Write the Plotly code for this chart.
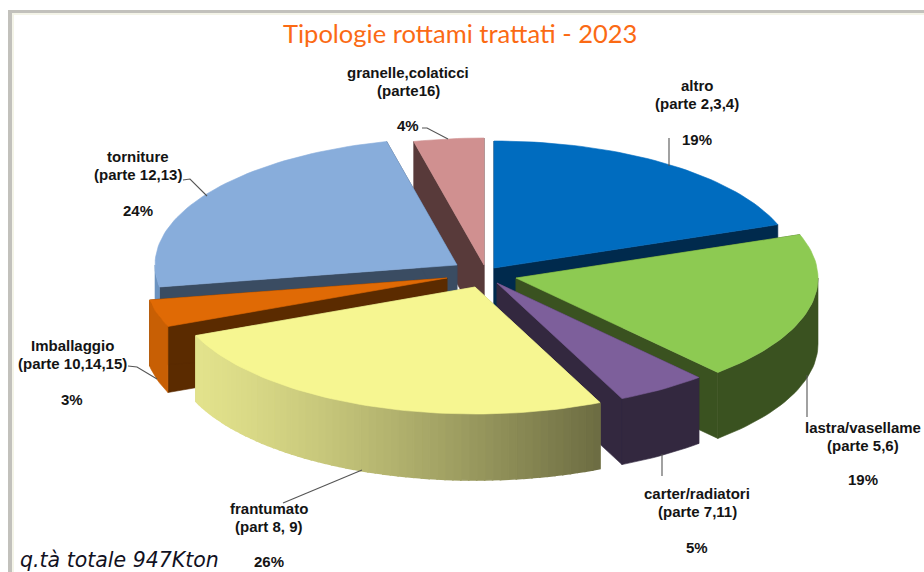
import math
import plotly.graph_objects as go

# ---- data ----
categories = ["altro", "lastra/vasellame", "carter/radiatori", "frantumato",
              "Imballaggio", "torniture", "granelle,colaticci"]
parts = ["(parte 2,3,4)", "(parte 5,6)", "(parte 7,11)", "(part 8, 9)",
         "(parte 10,14,15)", "(parte 12,13)", "(parte16)"]
percent = [19.45, 18.9, 4.86, 25.55, 3.47, 24.03, 3.74]
title_text = "Tipologie rottami trattati - 2023"
note_text = "q.tà totale 947Kton"

# ---- styles / layout ----
W, H = 924, 572
RX, RY, DEPTH = 302, 127, 66
CENTER = (486, 275)
# explosion offset of each slice from the pie centre (px)
EXPLODE_X = [8, 30, 11, -11, -39, -29, -2]
EXPLODE_Y = [-7, 3, 8, 12, 3, -10, -10]
TOP_COLORS = ["#006CBF", "#8DCA52", "#7D5F9B", "#F6F691", "#E06A05", "#88ADDB", "#D09090"]
WALL_COLORS = ["#002A4D", "#3A5220", "#33283F", "#A0A05F", "#5B2B00", "#3A4C62", "#583A3A"]
OUTER_COLORS = ["#002A4D", "#3A5220", "#33283F", None, "#C85F04", "#6C93C0", "#583A3A"]
GRAD_LEFT, GRAD_RIGHT = (226, 226, 140), (108, 108, 66)
DRAW_ORDER = [6, 0, 5, 4, 1, 2, 3]
LABEL_CX = [697, 863, 697, 269, 72, 138, 408]
LABEL_Y = [(85, 103, 139), (427, 445, 479), (493, 511, 547), (508, 526, 561),
           (345, 363, 399), (156, 174, 210), (72, 90, 125)]
LEADERS = [
    ([669, 669], [138, 166]),
    ([807, 807], [375, 417]),
    ([662, 662], [454, 476]),
    ([362, 283], [470, 503]),
    ([128, 137, 157], [366, 367, 379]),
    ([183, 190, 207], [180, 179, 196]),
    ([422, 427, 448], [128, 128, 139]),
]
LABEL_FONT = dict(family="Liberation Sans, Arial", size=15, color="#141414")

fig = go.Figure()


def poly(xs, ys, color, lw=0.6):
    fig.add_trace(go.Scatter(x=xs, y=ys, mode="lines", fill="toself", fillcolor=color,
                             line=dict(color=color, width=lw), hoverinfo="skip",
                             showlegend=False))


def rim(ax, ay, theta):
    t = math.radians(theta)
    return ax + RX * math.sin(t), ay - RY * math.cos(t)


def mix(a, b, t):
    return "rgb(%d,%d,%d)" % tuple(round(a[i] + (b[i] - a[i]) * t) for i in range(3))


edges = [0]
for p in percent:
    edges.append(edges[-1] + p * 3.6)

for i in DRAW_ORDER:
    ax, ay = CENTER[0] + EXPLODE_X[i], CENTER[1] + EXPLODE_Y[i]
    a0, a1 = edges[i], edges[i + 1]
    # radial walls
    for th in (a0, a1):
        x, y = rim(ax, ay, th)
        poly([ax, x, x, ax, ax], [ay, y, y + DEPTH, ay + DEPTH, ay], WALL_COLORS[i])
    # outer wall (front half only)
    lo, hi = max(a0, 90), min(a1, 270)
    if hi > lo:
        n = max(2, int((hi - lo) / 1.5))
        angs = [lo + (hi - lo) * k / n for k in range(n + 1)]
        if OUTER_COLORS[i] is None:
            x_min, x_max = rim(ax, ay, a1)[0], rim(ax, ay, a0)[0]
            # strips painted from the bright end; each one overlaps the previous
            for k in range(n):
                pa, pb = rim(ax, ay, angs[k]), rim(ax, ay, angs[k + 1])
                t = (0.5 * (pa[0] + pb[0]) - x_min) / (x_max - x_min)
                poly([pa[0], pb[0], pb[0], pa[0], pa[0]],
                     [pa[1], pb[1], pb[1] + DEPTH, pa[1] + DEPTH, pa[1]],
                     mix(GRAD_LEFT, GRAD_RIGHT, t ** 1.25), lw=1.6)
        else:
            pts = [rim(ax, ay, a) for a in angs]
            poly([p[0] for p in pts] + [p[0] for p in reversed(pts)] + [pts[0][0]],
                 [p[1] for p in pts] + [p[1] + DEPTH for p in reversed(pts)] + [pts[0][1]],
                 OUTER_COLORS[i])
    # top
    n = max(2, int((a1 - a0) / 1.5))
    pts = [rim(ax, ay, a0 + (a1 - a0) * k / n) for k in range(n + 1)]
    poly([ax] + [p[0] for p in pts] + [ax], [ay] + [p[1] for p in pts] + [ay], TOP_COLORS[i])

# leader lines
for xs, ys in LEADERS:
    fig.add_trace(go.Scatter(x=xs, y=ys, mode="lines", line=dict(color="#555555", width=1.1),
                             hoverinfo="skip", showlegend=False))

# labels
for i, name in enumerate(categories):
    y1, y2, y3 = LABEL_Y[i]
    for txt, y in ((name, y1), (parts[i], y2), ("%d%%" % round(percent[i]), y3)):
        fig.add_annotation(x=LABEL_CX[i], y=y, text="<b>%s</b>" % txt, showarrow=False,
                           xanchor="center", yanchor="middle", font=LABEL_FONT)

fig.add_annotation(x=460, y=33, text=title_text, showarrow=False, xanchor="center",
                   yanchor="middle", font=dict(family="Lato", size=25.5, color="#FB6A14"))
fig.add_annotation(x=18, y=560, text="<i>%s</i>" % note_text, showarrow=False, xanchor="left",
                   yanchor="middle", font=dict(family="DejaVu Sans", size=20.5, color="#111122"))

# frame
frame = "#C2C1BC"
shapes = [
    dict(type="rect", x0=8, x1=12, y0=10, y1=572, fillcolor=frame, line_width=0, layer="below"),
    dict(type="rect", x0=8, x1=924, y0=10, y1=13, fillcolor=frame, line_width=0, layer="below"),
    dict(type="rect", x0=12, x1=14, y0=13, y1=572, fillcolor="#F4F4E8", line_width=0, layer="below"),
    dict(type="rect", x0=12, x1=924, y0=13, y1=15, fillcolor="#F4F4E8", line_width=0, layer="below"),
]

fig.update_layout(
    width=W, height=H, margin=dict(l=0, r=0, t=0, b=0), autosize=False,
    paper_bgcolor="white", plot_bgcolor="white", showlegend=False, shapes=shapes,
    xaxis=dict(range=[0, W], visible=False, fixedrange=True),
    yaxis=dict(range=[H, 0], visible=False, fixedrange=True),
)
fig.write_html("out.html", config={"displayModeBar": False},
               post_script="document.body.style.margin='0';document.body.style.overflow='hidden';")
